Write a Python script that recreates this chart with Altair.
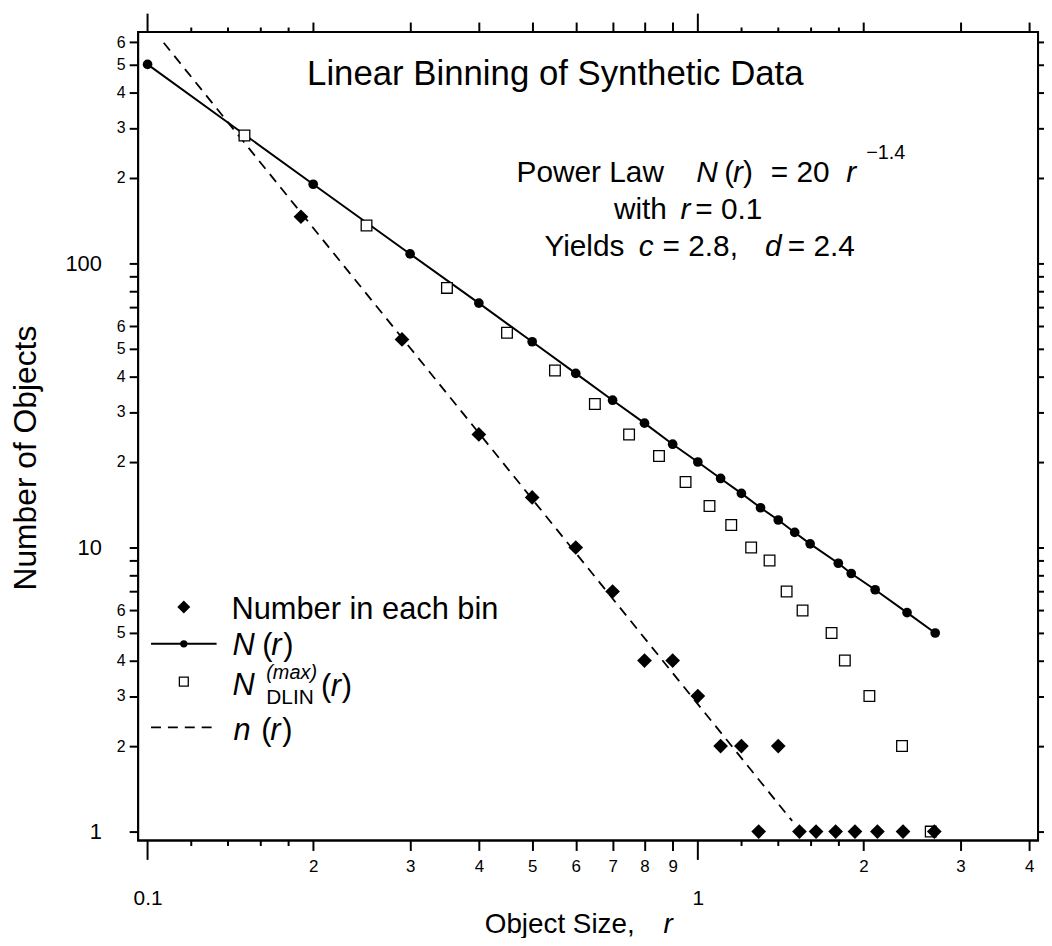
import json
import altair as alt
import pandas as pd

FONT = "Liberation Sans"

# ---------------- data ----------------
# number of objects in each linear bin (filled diamonds)
BIN_R = [0.19, 0.29, 0.40, 0.50, 0.60, 0.70, 0.80, 0.90, 1.00, 1.10,
         1.20, 1.29, 1.40, 1.53, 1.64, 1.78, 1.93, 2.12, 2.36, 2.69]
BIN_N = [146, 54, 25, 15, 10, 7, 4, 4, 3, 2,
         2, 1, 2, 1, 1, 1, 1, 1, 1, 1]
# power law N(r) (filled circles joined by a solid line)
NR_R = [0.1, 0.2, 0.3, 0.4, 0.5, 0.6, 0.7, 0.8, 0.9, 1.0, 1.1,
        1.2, 1.3, 1.4, 1.5, 1.6, 1.8, 1.9, 2.1, 2.4, 2.7]
NR_N = [502, 190, 108, 72.5, 53, 41, 33, 27.4, 23.1, 20, 17.5,
        15.5, 13.8, 12.5, 11.3, 10.3, 8.8, 8.1, 7.1, 5.9, 5.0]
# N_DLIN^(max)(r) (open squares)
DLIN_R = [0.15, 0.25, 0.35, 0.45, 0.55, 0.65, 0.75, 0.85, 0.95, 1.05,
          1.15, 1.25, 1.35, 1.45, 1.55, 1.75, 1.85, 2.05, 2.35, 2.65]
DLIN_N = [282, 136, 82, 57, 42, 32, 25, 21, 17, 14,
          12, 10, 9, 7, 6, 5, 4, 3, 2, 1]
# n(r) dashed line end points
FIT_R = [0.107, 1.484]
FIT_N = [598, 1.09]

# axis ticks and labels
X_MAJOR = [0.2, 0.3, 0.4, 0.5, 0.6, 0.7, 0.8, 0.9, 2, 3, 4]
X_MAJOR_LABELS = ["2", "3", "4", "5", "6", "7", "8", "9", "2", "3", "4"]
X_DECADE = [0.1, 1]
X_DECADE_LABELS = ["0.1", "1"]
X_MINOR = [0.12, 0.14, 0.16, 0.18, 1.2, 1.4, 1.6, 1.8]
Y_MINOR = [2, 3, 4, 5, 6, 7, 8, 9, 20, 30, 40, 50, 60, 70, 80, 90,
           200, 300, 400, 500, 600]
Y_MINOR_LABELS = ["2", "3", "4", "5", "6", "", "", "", "2", "3", "4", "5", "6", "", "", "",
                  "2", "3", "4", "5", "6"]
Y_DECADE = [1, 10, 100]
Y_DECADE_LABELS = ["1", "10", "100"]

X_DOMAIN = [0.09613, 4.152]
Y_DOMAIN = [0.93, 652.8]

W, H = 906, 814

# ---------------- helpers ----------------
XS = alt.Scale(type="log", domain=X_DOMAIN, nice=False)
YS = alt.Scale(type="log", domain=Y_DOMAIN, nice=False)


def make_axis(orient, values, labels, tick, fs=17, pad=8):
    kw = dict(orient=orient, values=values, tickSize=tick, tickWidth=2,
              tickColor="black", domain=False, grid=False, title=None,
              labelOverlap=False, labelFlush=False)
    if labels is None:
        kw["labels"] = False
    else:
        kw.update(labels=True,
                  labelExpr=f"{json.dumps(labels)}[indexof({json.dumps(values)}, datum.value)]",
                  labelFontSize=fs, labelPadding=pad, labelFont=FONT,
                  labelColor="black")
    return alt.Axis(**kw)


def X(ax):
    return alt.X("r:Q", scale=XS, axis=ax)


def Y(ax):
    return alt.Y("n:Q", scale=YS, axis=ax)


ONE = pd.DataFrame({"d": [0]})


def txt(s, px, py, size, italic=False, align="left", angle=None, baseline="alphabetic"):
    kw = dict(text=s, fontSize=size, font=FONT, color="black", align=align,
              baseline=baseline, fontStyle="italic" if italic else "normal")
    if angle is not None:
        kw["angle"] = angle
    return alt.Chart(ONE).mark_text(**kw).encode(x=alt.value(px), y=alt.value(py))


df_bin = pd.DataFrame({"r": BIN_R, "n": BIN_N})
df_nr = pd.DataFrame({"r": NR_R, "n": NR_N})
df_dlin = pd.DataFrame({"r": DLIN_R, "n": DLIN_N})
df_fit = pd.DataFrame({"r": FIT_R, "n": FIT_N})

ax_bot_major = make_axis("bottom", X_MAJOR, X_MAJOR_LABELS, 10, fs=17, pad=8)
ax_bot_dec = make_axis("bottom", X_DECADE, X_DECADE_LABELS, 19, fs=21, pad=28)
ax_bot_minor = make_axis("bottom", X_MINOR, None, 5)
ax_top_major = make_axis("top", X_MAJOR, None, 10)
ax_top_dec = make_axis("top", X_DECADE, None, 19)
ax_top_minor = make_axis("top", X_MINOR, None, 5)
ax_left_minor = make_axis("left", Y_MINOR, Y_MINOR_LABELS, 9, fs=16, pad=4)
ax_left_dec = make_axis("left", Y_DECADE, Y_DECADE_LABELS, 9, fs=22, pad=28)
ax_right = make_axis("right", Y_MINOR + Y_DECADE, None, 8)

frame = alt.Chart(ONE).mark_rect(filled=False, stroke="black", strokeWidth=2, fillOpacity=0).encode(
    x=alt.value(0), x2=alt.value(W), y=alt.value(0), y2=alt.value(H))

fit = alt.Chart(df_fit).mark_line(color="black", strokeWidth=1.8, strokeDash=[10, 7]).encode(
    x=X(ax_bot_major), y=Y(ax_left_minor))
nline = alt.Chart(df_nr).mark_line(color="black", strokeWidth=2).encode(
    x=X(ax_bot_dec), y=Y(ax_left_dec))
ncirc = alt.Chart(df_nr).mark_point(shape="circle", filled=True, size=95, color="black",
                                    opacity=1).encode(x=X(ax_bot_minor), y=Y(ax_right))
squares = alt.Chart(df_dlin).mark_point(shape="square", filled=True, fill="white", stroke="black",
                                        strokeWidth=1.3, size=115, opacity=1).encode(
    x=X(ax_top_major), y=Y(None))
diamonds = alt.Chart(df_bin).mark_point(shape="diamond", filled=True, size=220, color="black",
                                        opacity=1).encode(x=X(ax_top_dec), y=Y(None))
dummy = alt.Chart(df_nr).mark_point(opacity=0).encode(x=X(ax_top_minor), y=Y(None))

A = 30  # annotation font size
L = 31  # legend font size
texts = [
    txt("Linear Binning of Synthetic Data", 420, 53, 35, align="center"),
    # Power law line
    txt("Power Law", 381, 151, A),
    txt("N", 562, 151, A, italic=True),
    txt("(", 590, 151, A),
    txt("r", 599, 151, A, italic=True),
    txt(")", 609, 151, A),
    txt("= 20", 637, 151, A),
    txt("r", 713, 151, A, italic=True),
    txt("\u22121.4", 733, 128, 20),
    txt("with", 479, 188, A),
    txt("r", 546, 188, A, italic=True),
    txt("= 0.1", 561, 188, A),
    txt("Yields", 409, 226, A),
    txt("c", 504, 226, A, italic=True),
    txt("= 2.8,", 528, 226, A),
    txt("d", 631, 226, A, italic=True),
    txt("= 2.4", 654, 226, A),
    # legend
    txt("Number in each bin", 94, 591, L),
    txt("N", 95, 627, L, italic=True),
    txt("(", 125, 627, L),
    txt("r", 134, 627, L, italic=True),
    txt(")", 146, 627, L),
    txt("N", 95, 668, L, italic=True),
    txt("(max)", 129, 651, 20, italic=True),
    txt("DLIN", 129, 677, 21),
    txt("(", 184, 669, L),
    txt("r", 194, 669, L, italic=True),
    txt(")", 205, 669, L),
    txt("n", 96, 713, L, italic=True),
    txt("(", 124, 713, L),
    txt("r", 133, 713, L, italic=True),
    txt(")", 145, 713, L),
    # axis titles
    txt("Object Size,", 349, 907, 28),
    txt("r", 529, 907, 28, italic=True),
    txt("Number of Objects", -113, 429, 32, align="center", angle=270, baseline="middle"),
]

legend_marks = [
    alt.Chart(ONE).mark_point(shape="diamond", filled=True, size=170, color="black", opacity=1)
    .encode(x=alt.value(46), y=alt.value(579)),
    alt.Chart(ONE).mark_rule(color="black", strokeWidth=2)
    .encode(x=alt.value(13), x2=alt.value(79), y=alt.value(616)),
    alt.Chart(ONE).mark_point(shape="circle", filled=True, size=55, color="black", opacity=1)
    .encode(x=alt.value(46), y=alt.value(616)),
    alt.Chart(ONE).mark_point(shape="square", filled=True, fill="white", stroke="black",
                              strokeWidth=1.3, size=80, opacity=1)
    .encode(x=alt.value(46), y=alt.value(654)),
    alt.Chart(ONE).mark_rule(color="black", strokeWidth=1.8, strokeDash=[10, 7])
    .encode(x=alt.value(13), x2=alt.value(79), y=alt.value(700)),
]

chart = alt.layer(frame, fit, nline, ncirc, squares, diamonds, dummy, *legend_marks, *texts).resolve_scale(
    x="shared", y="shared").resolve_axis(x="independent", y="independent").properties(
    width=W, height=H,
    padding={"left": 131, "top": 21, "right": 6, "bottom": 95},
    autosize=alt.AutoSizeParams(type="none"),
    background="white",
).configure_view(stroke="black", strokeWidth=2)

chart.save("out.html", embed_options={"renderer": "svg", "actions": False})
